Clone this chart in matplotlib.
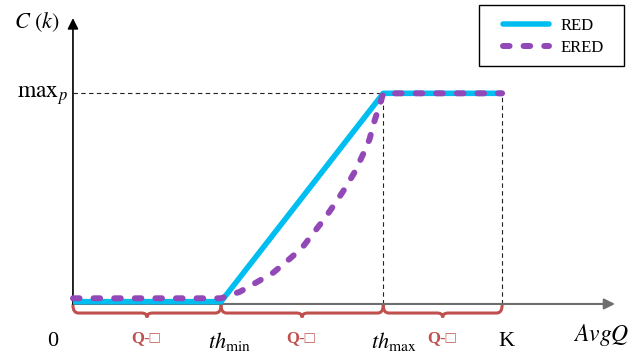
import numpy as np
import matplotlib.pyplot as plt
from matplotlib.path import Path
from matplotlib.patches import PathPatch, Rectangle
from matplotlib.lines import Line2D
from matplotlib.legend_handler import HandlerLine2D

# threshold positions on the AvgQ axis (K = 10)
th_min = 3.45
th_max = 7.23
K = 10.0
max_p = 1.0

# RED: linear between thresholds
red_x = [0.0, th_min, th_max, K]
red_y = [0.011, 0.011, max_p, max_p]

# ERED: flat, convex rise, flat
ered_x = [0.0, 3.45, 3.89, 4.28, 4.67, 5.02, 5.33, 5.60, 5.87, 6.11, 6.34,
          6.57, 6.77, 6.91, 7.02, 7.16, 7.23, 10.0]
ered_y = [0.027, 0.027, 0.058, 0.103, 0.149, 0.209, 0.264, 0.336, 0.407, 0.478,
          0.549, 0.628, 0.715, 0.782, 0.865, 0.953, 1.0, 1.0]

segments = [(0.0, th_min), (th_min, th_max), (th_max, K)]
seg_label = "Q-\u25a1"

RED_C = "#00BFF0"
ERED_C = "#9348B8"
BRACE_C = "#C0504D"

plt.rcParams["font.family"] = ["Liberation Serif", "DejaVu Serif"]
plt.rcParams["mathtext.fontset"] = "stix"

W, H = 630, 356
fig = plt.figure(figsize=(W / 100, H / 100), dpi=100)
ax = fig.add_axes([0, 0, 1, 1])
ax.set_xlim(-1.70, 12.98)
ax.set_ylim(-0.247, 1.443)
ax.axis("off")

# axes with arrows
ax.annotate("", xy=(12.63, 0), xytext=(0, 0),
            arrowprops=dict(arrowstyle="-|>", color="#6e6e6e", lw=1.5,
                            mutation_scale=16, shrinkA=0, shrinkB=0))
ax.annotate("", xy=(0, 1.357), xytext=(0, 0),
            arrowprops=dict(arrowstyle="-|>", color="black", lw=1.2,
                            mutation_scale=16, shrinkA=0, shrinkB=0))

# guide lines
ax.plot([0, th_max], [max_p, max_p], color="#222222", lw=0.8, ls=(0, (4, 3)))
ax.plot([th_max, th_max], [0, max_p], color="#222222", lw=0.8, ls=(0, (4, 3)))
ax.plot([K, K], [0, max_p], color="#222222", lw=0.8, ls=(0, (4, 3)))

ax.plot(red_x, red_y, color=RED_C, lw=4, solid_capstyle="butt", zorder=3)
ax.plot(ered_x, ered_y, color=ERED_C, lw=4.3, ls=(0, (1.1, 2.35)),
        dash_capstyle="round", zorder=4)


def brace(a, b, y_top=-0.006, y_line=-0.043, y_tip=-0.064, r=0.13):
    m = (a + b) / 2
    verts = [(a, y_top), (a, y_line), (a + r, y_line),
             (m - r, y_line), (m, y_line), (m, y_tip),
             (m, y_line), (m + r, y_line),
             (b - r, y_line), (b, y_line), (b, y_top)]
    codes = [Path.MOVETO, Path.CURVE3, Path.CURVE3,
             Path.LINETO, Path.CURVE3, Path.CURVE3,
             Path.CURVE3, Path.CURVE3,
             Path.LINETO, Path.CURVE3, Path.CURVE3]
    ax.add_patch(PathPatch(Path(verts, codes), fc="none", ec=BRACE_C, lw=2.2,
                           capstyle="round"))


for a, b in segments:
    brace(a, b)
    ax.text((a + b) / 2 - 0.03, -0.16, seg_label, color=BRACE_C, fontsize=12,
            fontweight="bold", ha="center", va="center",
            family=["Liberation Serif", "DejaVu Sans"])

ax.text(-0.47, -0.176, "0", fontsize=16, ha="center", va="center")
ax.text(th_min + 0.2, -0.178, r"$th_{\min}$", fontsize=16, ha="center", va="center")
ax.text(th_max + 0.25, -0.178, r"$th_{\max}$", fontsize=16, ha="center", va="center")
ax.text(K + 0.09, -0.18, "K", fontsize=16, ha="center", va="center")
ax.text(12.31, -0.145, r"$AvgQ$", fontsize=17, ha="center", va="center")
ax.text(-0.85, 1.34, r"$C\ (k)$", fontsize=16, ha="center", va="center")
ax.text(-0.13, 0.978, r"$\mathrm{max}_p$", fontsize=17, ha="right", va="baseline")

# legend box drawn separately so the margins can match
ax.add_artist(Rectangle((479 / W, 1 - 66 / H), 145 / W, 61 / H,
                        transform=fig.transFigure, fc="white",
                        ec="black", lw=1.0, zorder=5))
leg = ax.legend(
    handles=[Line2D([], [], color=RED_C, lw=4, solid_capstyle="round"),
             Line2D([], [], color=ERED_C, lw=4.3, ls=(0, (1.1, 2.35)),
                    dash_capstyle="round")],
    labels=["RED", "ERED"], loc="upper left", frameon=False,
    handler_map={Line2D: HandlerLine2D(xpad=0.8)},
    bbox_to_anchor=(479 / W, 1 - 8 / H), bbox_transform=fig.transFigure,
    fontsize=12, handlelength=3.55,
    borderpad=0.62, borderaxespad=0, labelspacing=0.33, handletextpad=0.75)
leg.set_zorder(6)

fig.savefig("out.png", dpi=100)
